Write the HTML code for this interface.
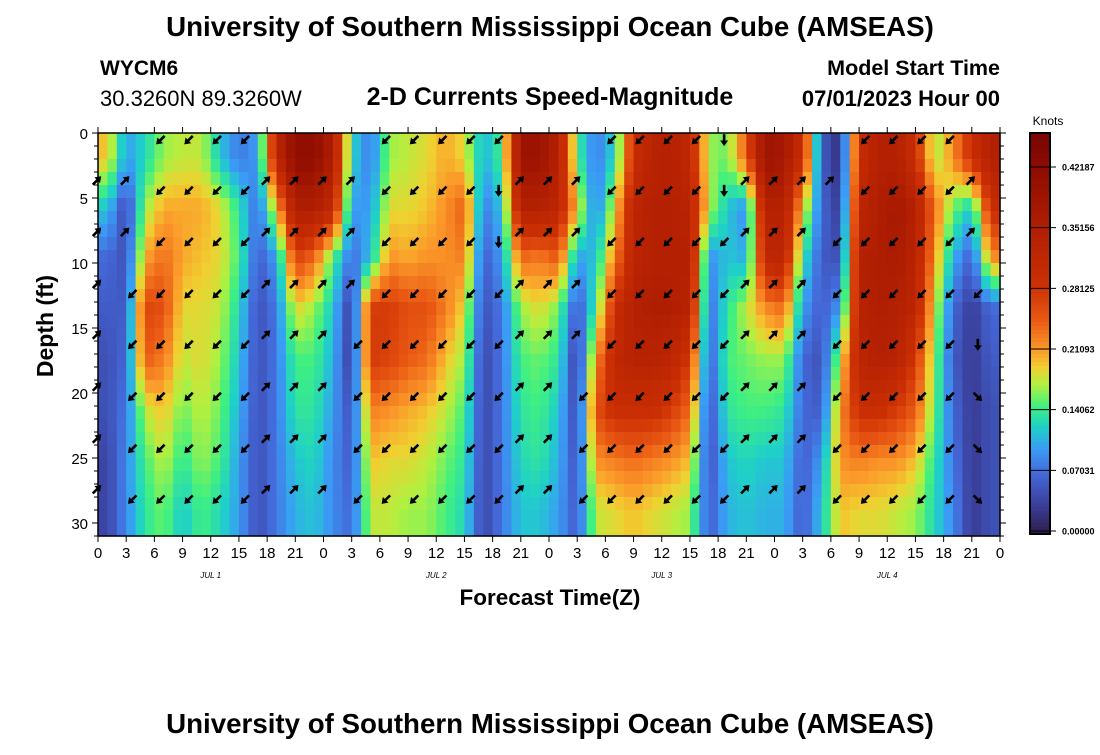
<!DOCTYPE html>
<html><head><meta charset="utf-8"><style>
body{margin:0;background:#fff;width:1100px;height:750px;overflow:hidden}
svg text{font-family:"Liberation Sans",sans-serif}
</style></head><body>
<svg id="chart" width="1100" height="750" xmlns="http://www.w3.org/2000/svg" xml:space="preserve">
<rect width="1100" height="750" fill="#fff"/>
<text x="550" y="36" text-anchor="middle" font-size="27.7" font-weight="bold">University of Southern Mississippi Ocean Cube (AMSEAS)</text>
<text x="100" y="75" font-size="21" font-weight="bold">WYCM6</text>
<text x="100" y="106" font-size="22">30.3260N  89.3260W</text>
<text x="550" y="105" text-anchor="middle" font-size="25" font-weight="bold">2-D Currents Speed-Magnitude</text>
<text x="1000" y="75" text-anchor="end" font-size="21.5" font-weight="bold">Model Start Time</text>
<text x="1000" y="106" text-anchor="end" font-size="22" font-weight="bold">07/01/2023 Hour 00</text>
<text transform="translate(53,326) rotate(-90)" text-anchor="middle" font-size="23" font-weight="bold">Depth (ft)</text>
<text x="550" y="605" text-anchor="middle" font-size="22.5" font-weight="bold">Forecast Time(Z)</text>
<text x="550" y="733" text-anchor="middle" font-size="27.7" font-weight="bold">University of Southern Mississippi Ocean Cube (AMSEAS)</text>
<g id="heat"></g>
<g id="arrows"></g>
<g id="axes"></g>
<g id="cbar"></g>
</svg>
<script>
// Current speed (knots), 2-hour columns (0..96h), 8 depth bands (0..31 ft)
const band0=[0.2,0.1,0.13,0.17,0.18,0.18,0.12,0.08,0.1,0.33,0.42,0.42,0.36,0.13,0.08,0.17,0.18,0.19,0.21,0.19,0.11,0.15,0.4,0.4,0.35,0.15,0.08,0.13,0.3,0.34,0.35,0.32,0.17,0.16,0.25,0.4,0.38,0.3,0.06,0.02,0.3,0.35,0.35,0.3,0.17,0.22,0.3,0.35];
const band1=[0.12,0.04,0.17,0.21,0.21,0.21,0.19,0.14,0.07,0.2,0.36,0.36,0.32,0.1,0.1,0.19,0.19,0.2,0.22,0.25,0.08,0.12,0.35,0.35,0.33,0.2,0.08,0.19,0.33,0.35,0.35,0.34,0.18,0.12,0.09,0.35,0.35,0.2,0.07,0.03,0.33,0.36,0.38,0.35,0.24,0.16,0.12,0.3];
const band2=[0.07,0.05,0.21,0.24,0.21,0.2,0.19,0.15,0.06,0.1,0.27,0.24,0.15,0.07,0.12,0.22,0.21,0.22,0.22,0.23,0.06,0.1,0.24,0.23,0.25,0.1,0.12,0.23,0.33,0.35,0.35,0.35,0.09,0.12,0.11,0.32,0.33,0.14,0.06,0.05,0.35,0.36,0.37,0.34,0.22,0.11,0.06,0.22];
const band3=[0.06,0.06,0.27,0.26,0.19,0.19,0.18,0.13,0.05,0.08,0.19,0.17,0.12,0.03,0.28,0.28,0.26,0.26,0.23,0.19,0.05,0.08,0.17,0.19,0.16,0.05,0.15,0.3,0.35,0.36,0.36,0.34,0.07,0.14,0.18,0.22,0.24,0.1,0.06,0.1,0.34,0.36,0.35,0.33,0.19,0.07,0.03,0.07];
const band4=[0.05,0.07,0.25,0.23,0.18,0.19,0.17,0.12,0.05,0.08,0.15,0.15,0.11,0.03,0.28,0.27,0.25,0.24,0.2,0.17,0.04,0.08,0.15,0.16,0.14,0.03,0.22,0.32,0.34,0.34,0.33,0.28,0.06,0.15,0.16,0.17,0.17,0.07,0.05,0.18,0.33,0.35,0.34,0.28,0.17,0.06,0.03,0.06];
const band5=[0.05,0.08,0.18,0.2,0.16,0.18,0.16,0.11,0.05,0.08,0.14,0.14,0.1,0.05,0.23,0.22,0.21,0.2,0.18,0.15,0.04,0.08,0.14,0.15,0.12,0.04,0.26,0.3,0.3,0.3,0.28,0.24,0.05,0.14,0.15,0.15,0.14,0.07,0.06,0.22,0.3,0.3,0.28,0.25,0.16,0.07,0.03,0.05];
const band6=[0.04,0.09,0.15,0.18,0.14,0.17,0.15,0.1,0.05,0.08,0.12,0.13,0.09,0.06,0.2,0.19,0.19,0.18,0.16,0.14,0.04,0.08,0.13,0.14,0.11,0.05,0.22,0.23,0.24,0.23,0.22,0.2,0.05,0.12,0.13,0.12,0.12,0.06,0.1,0.22,0.23,0.22,0.22,0.2,0.14,0.08,0.03,0.05];
const band7=[0.04,0.09,0.14,0.16,0.12,0.15,0.13,0.1,0.05,0.08,0.11,0.12,0.09,0.07,0.18,0.18,0.17,0.17,0.15,0.13,0.04,0.08,0.12,0.12,0.1,0.06,0.18,0.19,0.2,0.19,0.18,0.17,0.06,0.11,0.12,0.11,0.11,0.06,0.12,0.2,0.19,0.19,0.18,0.17,0.13,0.09,0.03,0.05];
const bands=[band0,band1,band2,band3,band4,band5,band6,band7];
// Arrow directions per 3-hour column: N=northeast, S=southwest, d=south, e=southeast, .=none
const arrowHours=[0,3,6,9,12,15,18,21,24,27,30,33,36,39,42,45,48,51,54,57,60,63,66,69,72,75,78,81,84,87,90,93];
const arrowDirs=[".NNNNNNN",".NNSSSSS","SSSSSSSS","SSSSSSSS","SSSSSSSS","SSSSSSSS",".NNNNNNN",".NNNNNNN",".NNNNNNN",".NNNSSSS","SSSSSSSS","SSSSSSSS","SSSSSSSS","SSSSSSSS","SddSSSSS",".NNNNNNN",".NNNNNNN",".NNNNSSS","SSSSSSSS","SSSSSSSS","SSSSSSSS","SSSSSSSS","ddSSSSSS",".NNNNNNN",".NNNNNNN",".NNNNNNN",".NSSSSSS","SSSSSSSS","SSSSSSSS","SSSSSSSS","SSSSSSSS",".NNSdeee"];
const yTicks=[0,5,10,15,20,25,30];
const xTickLabels=["0","3","6","9","12","15","18","21"];
const dayLabels=["JUL 1","JUL 2","JUL 3","JUL 4"];
const cbarTicks=["0.00000","0.07031","0.14062","0.21093","0.28125","0.35156","0.42187"];
const VMAX=0.46875, HOURS=96, DEPTH=31;

const NS="http://www.w3.org/2000/svg";
const X0=98,X1=1000,Y0=133,Y1=536;
const xs=h=>X0+h*(X1-X0)/HOURS;
const ys=d=>Y0+d*(Y1-Y0)/DEPTH;
function mk(tag,attrs,parent){const e=document.createElementNS(NS,tag);for(const k in attrs)e.setAttribute(k,attrs[k]);parent.appendChild(e);return e;}
const stops=[[0,"#2f1b48"],[0.035,"#3a3f9a"],[0.07,"#4468d8"],[0.1,"#3a9cf5"],[0.125,"#1fd0c8"],[0.15,"#40f080"],[0.175,"#b0f040"],[0.195,"#f0d030"],[0.215,"#fb9a2a"],[0.25,"#ea5a14"],[0.29,"#cc3004"],[0.36,"#b01e02"],[0.42,"#920e01"],[0.469,"#7a0403"]];
function hex(c){return [1,3,5].map(i=>parseInt(c.substr(i,2),16));}
function color(v){v=Math.max(0,Math.min(VMAX,v));for(let i=1;i<stops.length;i++){if(v<=stops[i][0]){const a=stops[i-1],b=stops[i];const t=(v-a[0])/(b[0]-a[0]);const ca=hex(a[1]),cb=hex(b[1]);return "rgb("+ca.map((x,j)=>Math.round(x+(cb[j]-x)*t)).join(",")+")";}}return stops[stops.length-1][1];}

// smooth rendering: sample the data grid bilinearly at cell centers
const nC=band0.length,nB=bands.length,colH=HOURS/nC,bandH=DEPTH/nB;
function sample(h,d){
  let fc=h/colH-0.5,fb=d/bandH-0.5;
  fc=Math.max(0,Math.min(nC-1,fc));fb=Math.max(0,Math.min(nB-1,fb));
  const c0=Math.floor(fc),b0=Math.floor(fb),c1=Math.min(nC-1,c0+1),b1=Math.min(nB-1,b0+1);
  const tc=fc-c0,tb=fb-b0;
  const top=bands[b0][c0]*(1-tc)+bands[b0][c1]*tc;
  const bot=bands[b1][c0]*(1-tc)+bands[b1][c1]*tc;
  return top*(1-tb)+bot*tb;
}
const heat=document.getElementById('heat');
const SUBH=1,SUBD=1;
for(let d=0;d<DEPTH;d+=SUBD){for(let h=0;h<HOURS;h+=SUBH){
  const r=mk('rect',{x:xs(h),y:ys(d),width:xs(h+SUBH)-xs(h)+0.6,height:ys(d+SUBD)-ys(d)+0.6,fill:color(sample(h+SUBH/2,d+SUBD/2))},heat);
  
  
}}

const ag=document.getElementById('arrows');
const rowDepths=[0.55,4.45,8.4,12.4,16.3,20.3,24.3,28.2];
const ang={N:45,S:225,d:270,e:315};
arrowHours.forEach((h,ci)=>{
  const s=arrowDirs[ci];
  for(let r=0;r<8;r++){const c=s[r];if(c==='.')continue;
    const a=ang[c]*Math.PI/180;const d=c==='N'?rowDepths[r]-0.8:rowDepths[r];
    const cx=xs(h)+(c==='N'?-1:6),cy=ys(d);
    const L=6,dx=Math.cos(a)*L,dy=-Math.sin(a)*L;
    const g=mk('g',{},ag);
    
    
    mk('line',{x1:cx-dx,y1:cy-dy,x2:cx+dx*0.4,y2:cy+dy*0.4,stroke:"#000","stroke-width":2.6},g);
    const tx=cx+dx,ty=cy+dy,px=-Math.sin(a),py=-Math.cos(a);
    const bx=cx+dx*0.05,by=cy+dy*0.05;
    mk('polygon',{points:`${tx},${ty} ${bx+px*4},${by+py*4} ${bx-px*4},${by-py*4}`,fill:"#000"},g);
  }
});

const ax=document.getElementById('axes');
mk('rect',{x:X0,y:Y0,width:X1-X0,height:Y1-Y0,fill:"none",stroke:"#000","stroke-width":1.5},ax);
for(let d=0;d<=DEPTH;d++){const y=ys(d),L=(d%5===0)?6:4;
  mk('line',{x1:X0-L,y1:y,x2:X0,y2:y,stroke:"#000"},ax);mk('line',{x1:X1,y1:y,x2:X1+L,y2:y,stroke:"#000"},ax);}
yTicks.forEach(d=>{const t=mk('text',{x:X0-10,y:ys(d)+6,"text-anchor":"end","font-size":15},ax);t.textContent=d;
  });
for(let h=0;h<=HOURS;h+=3){const x=xs(h);
  mk('line',{x1:x,y1:Y1,x2:x,y2:Y1+6,stroke:"#000"},ax);mk('line',{x1:x,y1:Y0-6,x2:x,y2:Y0,stroke:"#000"},ax);
  const t=mk('text',{x:x,y:Y1+22,"text-anchor":"middle","font-size":15},ax);t.textContent=xTickLabels[(h/3)%8];
  }
dayLabels.forEach((lab,i)=>{const t=mk('text',{x:xs(12+24*i),y:Y1+42,"text-anchor":"middle","font-size":8,"font-style":"italic","font-family":"Liberation Mono, monospace"},ax);t.textContent=lab;
  });

const cb=document.getElementById('cbar');
const CX=1030,CW=20;const cy=v=>Y1-2-v*(Y1-2-Y0)/VMAX;
const N=100;for(let i=0;i<N;i++){const v0=i*VMAX/N,v1=(i+1)*VMAX/N;
  mk('rect',{x:CX,y:cy(v1),width:CW,height:cy(v0)-cy(v1)+0.5,fill:color((v0+v1)/2)},cb);}
mk('rect',{x:CX,y:Y0,width:CW,height:Y1-2-Y0,fill:"none",stroke:"#000","stroke-width":2},cb);
const kt=mk('text',{x:1048,y:125,"text-anchor":"middle","font-size":12},cb);kt.textContent="Knots";

cbarTicks.forEach(s=>{const v=parseFloat(s);const yy=531-v*(531-167)/0.42187;
  mk('line',{x1:CX,y1:yy,x2:CX+26,y2:yy,stroke:"#000"},cb);
  const t=mk('text',{x:1062,y:yy+3.5,"font-size":9,"font-weight":"bold"},cb);t.textContent=s;
  });
</script>
</body></html>
